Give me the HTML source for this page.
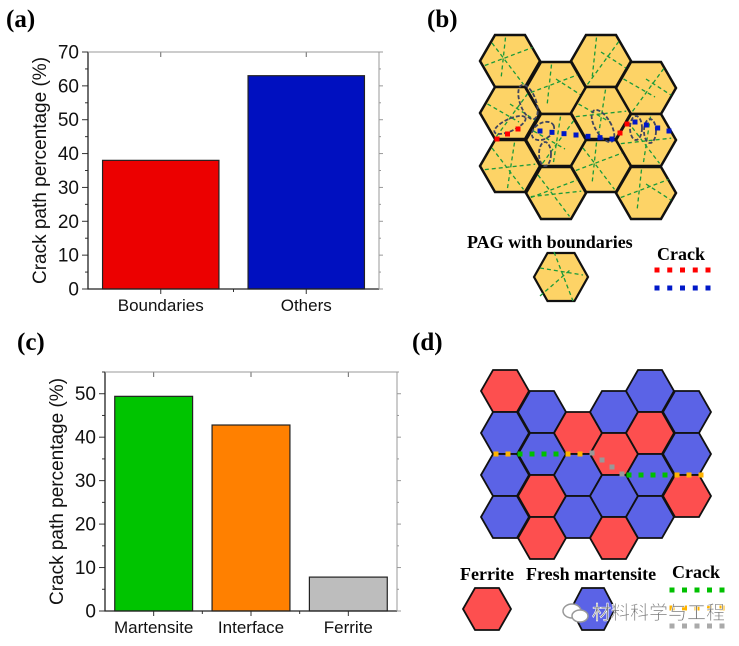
<!DOCTYPE html>
<html><head><meta charset="utf-8"><style>
body{margin:0;background:#fff;}
svg{display:block;font-family:"Liberation Sans",Arial,sans-serif;}
.pl{font-family:"Liberation Serif",serif;font-weight:bold;font-size:25px;}
.lg{font-family:"Liberation Serif",serif;font-weight:bold;font-size:18px;}
</style></head><body>
<svg id="root" width="739" height="646" viewBox="0 0 739 646">
<text class="pl" x="6" y="27">(a)</text>
<text class="pl" x="427" y="27">(b)</text>
<text class="pl" x="17" y="350">(c)</text>
<text class="pl" x="412" y="350">(d)</text>
<g id="chartA"></g>
<g id="chartC"></g>
<g id="panelB"></g>
<g id="panelD"></g>
<text class="lg" x="467" y="248">PAG with boundaries</text>
<text class="lg" x="657" y="260">Crack</text>
<text class="lg" x="460" y="580">Ferrite</text>
<text class="lg" x="526" y="580">Fresh martensite</text>
<text class="lg" x="672" y="578">Crack</text>
<g id="wm">
<ellipse cx="572" cy="611" rx="9" ry="7" fill="#fff" stroke="#999" stroke-width="1.5"/>
<ellipse cx="580" cy="616" rx="8" ry="6" fill="#fff" stroke="#999" stroke-width="1.5"/>
<text x="592" y="619" font-size="19" fill="#777" stroke="#fff" stroke-width="0.6" style="font-family:'Liberation Sans','Noto Sans CJK SC',sans-serif">材料科学与工程</text>
</g>
</svg>
<script>
const NS='http://www.w3.org/2000/svg';
function mk(p,t,a){const e=document.createElementNS(NS,t);for(const k in a)e.setAttribute(k,a[k]);p.appendChild(e);return e;}

// chart (a) data
const catsA=['Boundaries','Others'];
const valsA=[38,63];
const colorsA=['#ec0000','#0010c0'];
const ticksA=[0,10,20,30,40,50,60,70];
// chart (c) data
const catsC=['Martensite','Interface','Ferrite'];
const valsC=[49.4,42.8,7.8];
const colorsC=['#00c400','#ff8000','#bdbdbd'];
const ticksC=[0,10,20,30,40,50];

function bar(gid,cats,vals,cols,ticks,ymax,L,R,T,B,name){
  const g=document.getElementById(gid);
  const y=v=>B-(v/ymax)*(B-T);
  const step=(R-L)/cats.length;
  const x=i=>L+step*(i+0.5);
  const minorStep=(ticks[1]-ticks[0])/2;
  for(let v=0;v<=ymax+1e-9;v+=minorStep){
    const isMaj=Math.abs(v/ (ticks[1]-ticks[0]) - Math.round(v/(ticks[1]-ticks[0])))<1e-6;
    const l=mk(g,'line',{x1:L-(isMaj?6:3),x2:L,y1:y(v),y2:y(v),stroke:'#333','stroke-width':1});
    
    
    const r=mk(g,'line',{x1:R,x2:R+(isMaj?4:2),y1:y(v),y2:y(v),stroke:'#999','stroke-width':1});
    
    
  }
  ticks.forEach(v=>{
    const t=mk(g,'text',{x:L-9,y:y(v)+6.5,'text-anchor':'end','font-size':19,fill:'#111'});
    t.textContent=v;
    
    
  });
  cats.forEach((c,i)=>{
    const bw=step*0.8;
    const r=mk(g,'rect',{x:x(i)-bw/2,y:y(vals[i]),width:bw,height:B-y(vals[i]),fill:cols[i],stroke:'#222','stroke-width':1.2});
    
    
    const t=mk(g,'text',{x:x(i),y:B+22,'text-anchor':'middle','font-size':17,fill:'#111'});
    t.textContent=c;
    
    
    const tk=mk(g,'line',{x1:x(i),x2:x(i),y1:B,y2:B+5,stroke:'#333'});
    
    
    const tt=mk(g,'line',{x1:x(i),x2:x(i),y1:T,y2:T+5,stroke:'#666'});
    
    
    if(i>0){const m=mk(g,'line',{x1:L+step*i,x2:L+step*i,y1:B,y2:B+3,stroke:'#333'});
      
      }
  });
  const ax=mk(g,'path',{d:`M${L},${T}V${B}H${R}`,fill:'none',stroke:'#222','stroke-width':1.3});
  
  
  const fr=mk(g,'path',{d:`M${L},${T}H${R}V${B}`,fill:'none',stroke:'#999','stroke-width':1});
  
  
  const ty=(T+B)/2;
  const tl=mk(g,'text',{x:0,y:0,transform:`translate(${L-42},${ty}) rotate(-90)`,'text-anchor':'middle','font-size':19,fill:'#111'});
  tl.textContent='Crack path percentage (%)';
  
  
}
bar('chartA',catsA,valsA,colorsA,ticksA,70,88,379,52,289,'a');
bar('chartC',catsC,valsC,colorsC,ticksC,55,105,397,372,611,'c');

function hexPts(cx,cy,r,h){return [[cx-r,cy],[cx-r/2,cy-h],[cx+r/2,cy-h],[cx+r,cy],[cx+r/2,cy+h],[cx-r/2,cy+h]].map(p=>p.join(',')).join(' ');}

// panel b
const gb=document.getElementById('panelB');
const hexB=[[510,61],[510,113],[510,166],[556,88],[556,140],[556,193],[601,61],[601,113],[601,166],[646,88],[646,140],[646,193]];
const linesB=[[-20,-20,15,26],[-28,5,25,-15],[-5,-26,-10,20],[0,-10,28,8],[-15,26,20,-22],[-25,-10,10,10],[5,-26,-3,26],[-28,4,28,-2]];
hexB.forEach((c,i)=>{
  const h=mk(gb,'polygon',{points:hexPts(c[0],c[1],30,26),fill:'#fdd366',stroke:'#111','stroke-width':2.5});
  
  
  for(let k=0;k<3;k++){const L=linesB[(i*3+k)%linesB.length];
    const l=mk(gb,'line',{x1:c[0]+L[0]*0.9,y1:c[1]+L[1]*0.9,x2:c[0]+L[2]*0.9,y2:c[1]+L[3]*0.9,stroke:'#1a9a3a','stroke-width':1.3,'stroke-dasharray':'4,3'});
    
    }
});
[[528,102,8,18,-20],[510,125,17,6,-25],[543,131,12,8,-30],[545,154,6,12,0],[603,126,8,18,-30],[650,131,6,12,0],[636,128,6,12,0]].forEach(e=>{
  const el=mk(gb,'ellipse',{cx:e[0],cy:e[1],rx:e[2],ry:e[3],transform:`rotate(${e[4]} ${e[0]} ${e[1]})`,fill:'none',stroke:'#3f4460','stroke-width':1.8,'stroke-dasharray':'4,2'});
  
  
});
function dots(g,x1,y1,x2,y2,col,n,name){for(let i=0;i<n;i++){const t=n>1?i/(n-1):0;
  const r=mk(g,'rect',{x:x1+(x2-x1)*t-2.5,y:y1+(y2-y1)*t-2.5,width:5,height:5,fill:col});
  
  }}
dots(gb,497,139,518,129,'#f00',3,'crack-segment');
dots(gb,540,131,612,139,'#0018c8',7,'crack-segment');
dots(gb,620,133,627,124,'#f00',2,'crack-segment');
dots(gb,635,122,669,131,'#0018c8',4,'crack-segment');
const lh=mk(gb,'polygon',{points:hexPts(561,277,27,24),fill:'#fdd366',stroke:'#111','stroke-width':2.2});


[[540,268,583,275],[554,252,573,301],[540,296,570,270]].forEach(L=>{const l=mk(gb,'line',{x1:L[0],y1:L[1],x2:L[2],y2:L[3],stroke:'#1a9a3a','stroke-width':1.3,'stroke-dasharray':'4,3'});
  
  });
dots(gb,657,270,708,270,'#f00',5,'crack-legend-red');
dots(gb,657,288,708,288,'#0018c8',5,'crack-legend-blue');

// panel d
const gd=document.getElementById('panelD');
const R='#fd4f4f',Bl='#5b63e6';
const hexD=[[505,391,R],[505,433,Bl],[505,475,Bl],[505,517,Bl],
[542,412,Bl],[542,454,Bl],[542,496,R],[542,538,R],
[578,433,R],[578,475,Bl],[578,517,Bl],
[614,412,Bl],[614,454,R],[614,496,Bl],[614,538,R],
[650,391,Bl],[650,433,R],[650,475,Bl],[650,517,Bl],
[687,412,Bl],[687,454,Bl],[687,496,R]];
hexD.forEach(c=>{const h=mk(gd,'polygon',{points:hexPts(c[0],c[1],24,21),fill:c[2],stroke:'#111','stroke-width':1.8});
  
  });
dots(gd,496,454,508,454,'#ffb400',2,'crack-segment');
dots(gd,520,454,556,454,'#00c000',4,'crack-segment');
dots(gd,568,454,580,454,'#ffb400',2,'crack-segment');
dots(gd,592,453,622,474,'#999',4,'crack-segment');
dots(gd,629,475,665,475,'#00c000',4,'crack-segment');
dots(gd,677,475,701,475,'#ffb400',3,'crack-segment');
const fh=mk(gd,'polygon',{points:hexPts(487,609,24,21),fill:R,stroke:'#111','stroke-width':1.8});


const mh=mk(gd,'polygon',{points:hexPts(593,609,22,21),fill:Bl,stroke:'#111','stroke-width':1.8});


dots(gd,672,590,722,590,'#00c000',5,'crack-legend-green');
dots(gd,672,608,722,608,'#ffb400',5,'crack-legend-orange');
dots(gd,672,626,722,626,'#aaa',5,'crack-legend-gray');
document.getElementById('root').appendChild(document.getElementById('wm'));
</script>
</body></html>
